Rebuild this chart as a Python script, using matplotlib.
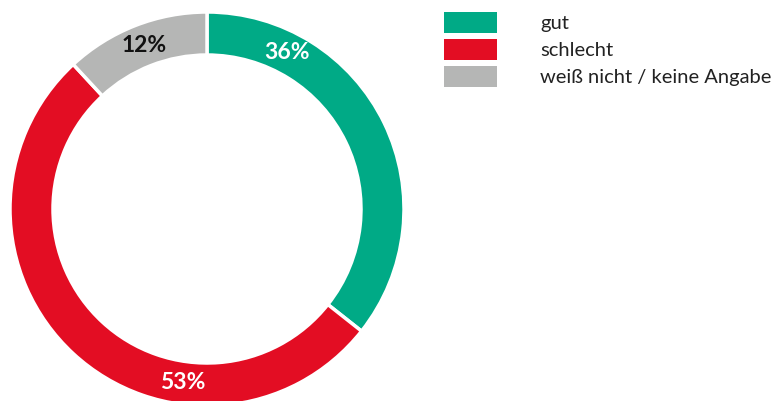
import matplotlib
matplotlib.use("Agg")
import matplotlib.pyplot as plt
from matplotlib.patches import Patch
import numpy as np

plt.rcParams['font.family'] = ['Lato', 'DejaVu Sans']

categories = ["gut", "schlecht", "weiß nicht / keine Angabe"]
values = [36, 53, 12]
labels = ["36%", "53%", "12%"]
colors = ["#00AA86", "#E30D23", "#B5B6B5"]
label_colors = ["white", "white", "#111111"]
# label angles (degrees clockwise from top) – style positions
label_angles = [27, 188, -21]

W, H = 774, 401
fig = plt.figure(figsize=(W / 100, H / 100), dpi=100)
ax = fig.add_axes([0, 0, 1, 1])

cx, cy = 207, H - 209
R = 197
width = 43

ax.pie(values, colors=colors, startangle=90, counterclock=False,
       center=(cx, cy), radius=R, frame=True,
       wedgeprops=dict(width=width, edgecolor='white', linewidth=2.5))
ax.set_xlim(0, W)
ax.set_ylim(0, H)
ax.set_aspect('equal')
ax.axis('off')

rm = R - width / 2
for lab, ang, col in zip(labels, label_angles, label_colors):
    a = np.deg2rad(ang)
    ax.text(cx + rm * np.sin(a), cy + rm * np.cos(a), lab, color=col,
            ha='center', va='center', fontsize=16.5, fontweight='bold')

fs = 14.5
fpx = fs * 100 / 72
handles = [Patch(facecolor=c, edgecolor='none') for c in colors]
leg = ax.legend(handles, categories, loc='upper left',
                bbox_to_anchor=(444 / W, 1 - 12 / H), bbox_transform=fig.transFigure,
                frameon=False, fontsize=fs, handlelength=53 / fpx, handleheight=1.22,
                handletextpad=43 / fpx, labelspacing=0.3, borderpad=0, borderaxespad=0)
for t in leg.get_texts():
    t.set_color('#222222')

fig.savefig("out.png", dpi=100)
